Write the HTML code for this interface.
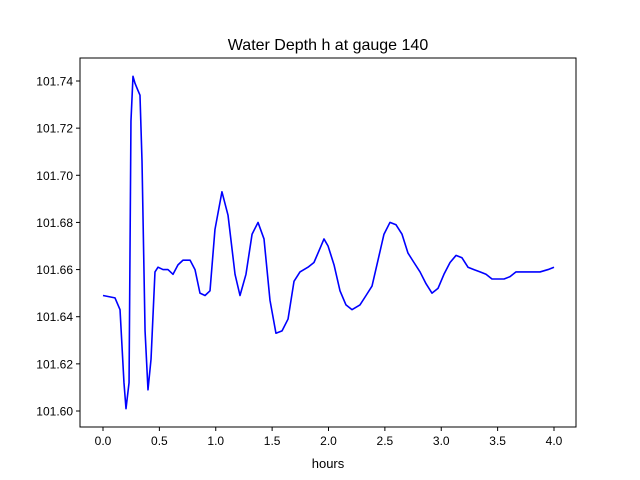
<!DOCTYPE html>
<html><head><meta charset="utf-8"><style>
body{margin:0;background:#fff;}
svg{display:block;font-family:"Liberation Sans","DejaVu Sans",sans-serif;}
</style></head><body>
<svg id="chart" width="640" height="480">
<rect width="640" height="480" fill="#fff"/>
<text x="328" y="50" font-size="16" text-anchor="middle">Water Depth h at gauge 140</text>
<g id="plot"></g>
<text x="328" y="468" font-size="13" text-anchor="middle">hours</text>
</svg>
<script>
const hours=[0,0.106,0.151,0.186,0.204,0.231,0.248,0.266,0.284,0.310,0.328,0.346,0.373,0.399,0.426,0.461,0.488,0.532,0.576,0.621,0.665,0.710,0.772,0.816,0.860,0.905,0.949,0.993,1.055,1.109,1.171,1.215,1.268,1.322,1.375,1.428,1.481,1.534,1.588,1.641,1.694,1.747,1.818,1.871,1.925,1.960,1.996,2.049,2.102,2.155,2.208,2.279,2.333,2.386,2.439,2.492,2.545,2.599,2.652,2.705,2.758,2.812,2.865,2.918,2.971,3.024,3.078,3.131,3.184,3.237,3.290,3.344,3.397,3.450,3.503,3.557,3.610,3.663,3.716,3.769,3.823,3.876,3.947,4.0];
const depth=[101.649,101.648,101.643,101.612,101.601,101.612,101.723,101.742,101.739,101.736,101.734,101.706,101.634,101.609,101.622,101.659,101.661,101.660,101.660,101.658,101.662,101.664,101.664,101.660,101.650,101.649,101.651,101.677,101.693,101.683,101.658,101.649,101.658,101.675,101.680,101.673,101.647,101.633,101.634,101.639,101.655,101.659,101.661,101.663,101.669,101.673,101.670,101.662,101.651,101.645,101.643,101.645,101.649,101.653,101.664,101.675,101.680,101.679,101.675,101.667,101.663,101.659,101.654,101.650,101.652,101.658,101.663,101.666,101.665,101.661,101.660,101.659,101.658,101.656,101.656,101.656,101.657,101.659,101.659,101.659,101.659,101.659,101.660,101.661];
const xTicks=[0,0.5,1,1.5,2,2.5,3,3.5,4];
const xTickLabels=["0.0","0.5","1.0","1.5","2.0","2.5","3.0","3.5","4.0"];
const yTicks=[101.60,101.62,101.64,101.66,101.68,101.70,101.72,101.74];
const yTickLabels=["101.60","101.62","101.64","101.66","101.68","101.70","101.72","101.74"];
const L=80,R=576,T=58,B=427;
const xs=v=>103+(v-0)*(554-103)/4;
const ys=v=>411-(v-101.60)*(411-81)/0.14;
const ns="http://www.w3.org/2000/svg";
const g=document.getElementById('plot');
function mk(t,a){const e=document.createElementNS(ns,t);for(const k in a)e.setAttribute(k,a[k]);g.appendChild(e);return e;}
const line=mk('polyline',{points:hours.map((h,i)=>xs(h)+','+ys(depth[i])).join(' '),fill:'none',stroke:'#0000ff','stroke-width':1.6,'stroke-linejoin':'round'});


const fr=mk('rect',{x:L,y:T,width:R-L,height:B-T,fill:'none',stroke:'#000','stroke-width':1});


xTicks.forEach((v,i)=>{
 const x=xs(v);
 const t=mk('line',{x1:x,x2:x,y1:B,y2:B+4,stroke:'#000'});
 
 
 const l=mk('text',{x:x,y:B+18,'font-size':12,'text-anchor':'middle'});
 l.textContent=xTickLabels[i];
 
 
});
yTicks.forEach((v,i)=>{
 const y=ys(v);
 const t=mk('line',{x1:L-4,x2:L,y1:y,y2:y,stroke:'#000'});
 
 
 const l=mk('text',{x:L-7,y:y+4.5,'font-size':12,'text-anchor':'end'});
 l.textContent=yTickLabels[i];
 
 
});
</script>
</body></html>
